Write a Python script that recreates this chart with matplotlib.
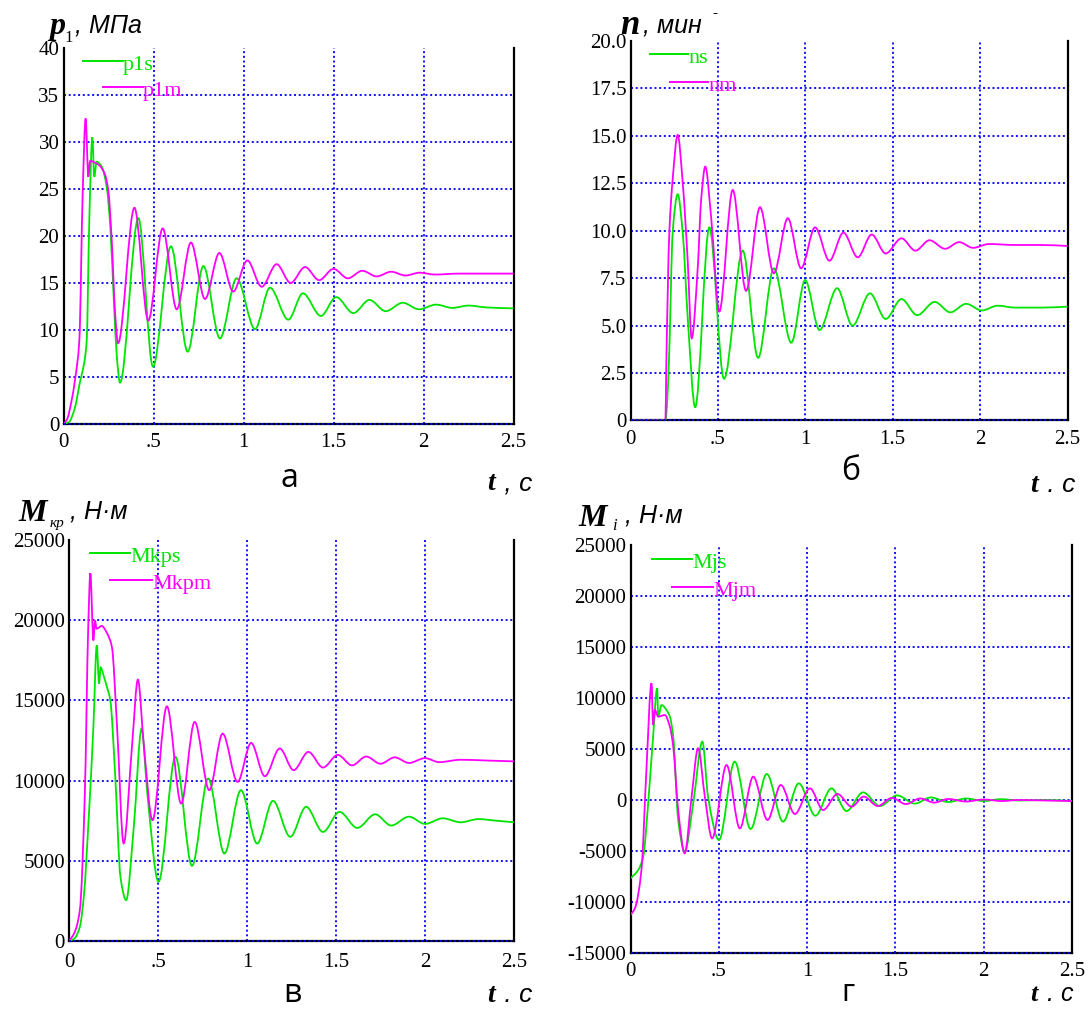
import numpy as np
import matplotlib
matplotlib.use('Agg')
import matplotlib.pyplot as plt
from matplotlib.path import Path
from matplotlib.patches import PathPatch
from matplotlib.lines import Line2D

# ---------------- data ----------------
X_TICKS = [0, 0.5, 1.0, 1.5, 2.0, 2.5]
X_TICK_LABELS = ['0', '.5', '1', '1.5', '2', '2.5']

# panel a : p1, MPa
p1m_t = [0, .02, .045, .064, .088, .107, .123, .138, .148, .175, .20, .231, .249, .268, .286, .303,
         .394, .471, .551, .629, .708, .786, .866, .943, 1.021, 1.101, 1.184, 1.262, 1.342, 1.42,
         1.50, 1.58, 1.66, 1.74, 1.82, 1.90, 1.98, 2.06, 2.2, 2.35, 2.5]
p1m_v = [0, .5, 2.5, 4.7, 8.9, 24.9, 32.5, 26.3, 28.0, 27.8, 27.5, 26.5, 24.8, 19.5, 12.0, 8.6,
         23.0, 11.0, 20.8, 12.2, 19.3, 13.3, 18.2, 14.1, 17.4, 14.6, 17.0, 15.0, 16.7, 15.3,
         16.5, 15.5, 16.3, 15.7, 16.2, 15.8, 16.1, 15.9, 16.0, 16.0, 16.0]
p1s_t = [0, .03, .06, .094, .115, .129, .143, .16, .171, .184, .212, .24, .26, .28, .297, .314,
         .416, .497, .597, .69, .777, .869, .962, 1.064, 1.147, 1.249, 1.33, 1.43, 1.515, 1.61,
         1.70, 1.79, 1.885, 1.975, 2.07, 2.16, 2.25, 2.35, 2.5]
p1s_v = [0, .2, 1.5, 4.7, 6.5, 8.9, 21.4, 30.5, 26.3, 27.9, 27.4, 25.2, 21.0, 13.0, 7.0, 4.4,
         21.9, 6.1, 18.9, 7.7, 16.8, 9.1, 15.5, 10.1, 14.5, 11.1, 13.9, 11.5, 13.5, 11.8,
         13.2, 12.0, 12.9, 12.2, 12.7, 12.35, 12.6, 12.4, 12.3]
p1_yticks = [0, 5, 10, 15, 20, 25, 30, 35, 40]
p1_ylabels = ['0', '5', '10', '15', '20', '25', '30', '35', '40']

# panel б : n
nm_t = [0, .2, .205, .222, .241, .27, .299, .327, .35, .385, .404, .428, .461, .508, .585, .661,
        .741, .82, .90, .976, 1.056, 1.138, 1.218, 1.30, 1.38, 1.46, 1.55, 1.63, 1.71, 1.80,
        1.88, 1.96, 2.05, 2.2, 2.35, 2.5]
nm_v = [0, 0, 3.0, 9.87, 12.68, 15.05, 12.5, 8.46, 4.33, 8.1, 11.62, 13.38, 10.74, 5.74, 12.15, 6.83,
        11.24, 7.76, 10.66, 8.02, 10.18, 8.42, 9.9, 8.6, 9.8, 8.8, 9.6, 8.95, 9.5, 9.05,
        9.4, 9.1, 9.3, 9.25, 9.25, 9.2]
ns_t = [0, .2, .21, .222, .241, .27, .299, .327, .37, .451, .535, .642, .73, .82, .92, .999,
        1.081, 1.182, 1.27, 1.37, 1.46, 1.55, 1.64, 1.74, 1.83, 1.92, 2.01, 2.10, 2.2, 2.35, 2.5]
ns_v = [0, 0, 1.0, 3.7, 9.87, 11.92, 9.87, 5.47, 0.7, 10.18, 2.2, 8.95, 3.3, 8.02, 4.1, 7.4,
        4.77, 6.97, 5.0, 6.7, 5.35, 6.4, 5.55, 6.25, 5.7, 6.15, 5.8, 6.05, 5.95, 5.95, 6.0]
n_yticks = [0, 2.5, 5, 7.5, 10, 12.5, 15, 17.5, 20]
n_ylabels = ['0', '2.5', '5.0', '7.5', '10.0', '12.5', '15.0', '17.5', '20.0']

# panel в : Mkp
mkpm_t = [0, .03, .061, .089, .108, .12, .137, .146, .155, .184, .213, .241, .27, .307, .355, .387,
          .421, .469, .55, .63, .706, .788, .863, .947, 1.023, 1.10, 1.184, 1.262, 1.345, 1.427,
          1.51, 1.59, 1.67, 1.75, 1.83, 1.91, 2.0, 2.08, 2.2, 2.35, 2.5]
mkpm_v = [0, 500, 1930, 9215, 19570, 22930, 18740, 19990, 19470, 19640, 19200, 18330, 13345, 6080,
          12310, 16295, 12100, 7535, 14630, 8570, 13660, 9400, 12930, 9920, 12350, 10270, 12000,
          10650, 11790, 10815, 11600, 10950, 11500, 11050, 11450, 11100, 11400, 11150, 11300,
          11250, 11200]
mkps_t = [0, .03, .061, .085, .108, .137, .156, .169, .178, .194, .213, .232, .26, .289, .321, .364,
          .408, .44, .503, .598, .691, .782, .873, .966, 1.057, 1.146, 1.243, 1.332, 1.427, 1.52,
          1.62, 1.72, 1.81, 1.91, 2.0, 2.1, 2.2, 2.3, 2.4, 2.5]
mkps_v = [0, 150, 890, 3000, 7120, 13345, 18430, 16050, 17050, 16560, 15840, 15010, 10230, 4000,
          2550, 7120, 13245, 9200, 3695, 11480, 4690, 10130, 5460, 9400, 6080, 8740, 6495, 8365,
          6800, 8050, 7050, 7900, 7200, 7750, 7300, 7650, 7400, 7600, 7500, 7400]
mkp_yticks = [0, 5000, 10000, 15000, 20000, 25000]
mkp_ylabels = ['0', '5000', '10000', '15000', '20000', '25000']

# panel г : Mj
mjs_t = [0, .044, .072, .10, .128, .151, .157, .176, .204, .223, .242, .27, .307, .355, .407, .439,
         .501, .59, .68, .772, .864, .953, 1.047, 1.138, 1.223, 1.317, 1.412, 1.51, 1.61, 1.70,
         1.80, 1.90, 2.0, 2.1, 2.2, 2.35, 2.5]
mjs_v = [-7680, -6860, -5560, -330, 6210, 10950, 8170, 9310, 8820, 8170, 6210, -1960, -5070, -330,
         5720, 330, -3920, 3760, -2840, 2550, -2120, 1630, -1540, 1140, -1080, 750, -590, 450,
         -350, 250, -200, 150, -100, 80, -50, 0, -100]
mjm_t = [0, .025, .062, .09, .119, .128, .138, .157, .194, .223, .242, .27, .307, .346, .383, .421,
         .462, .544, .619, .695, .776, .851, .931, 1.016, 1.091, 1.172, 1.252, 1.321, 1.40, 1.48,
         1.56, 1.64, 1.72, 1.80, 1.9, 2.0, 2.1, 2.2, 2.35, 2.5]
mjm_v = [-11270, -10620, -6860, 2940, 11440, 7350, 8820, 8170, 8330, 7190, 5230, -1000, -5230, 330,
         5070, 330, -3760, 3430, -2780, 2290, -1960, 1470, -1370, 1140, -980, 590, -650, 330,
         -590, 200, -400, 150, -250, 100, -150, 50, -100, 0, -50, -100]
mj_yticks = [-15000, -10000, -5000, 0, 5000, 10000, 15000, 20000, 25000]
mj_ylabels = ['-15000', '-10000', '-5000', '0', '5000', '10000', '15000', '20000', '25000']

# ---------------- style ----------------
W, H, DPI = 1091, 1010, 100
GREEN = '#00e400'
MAGENTA = '#ff00ff'
BLUE = '#0000ff'
SERIF = 'Liberation Serif'
SANS = 'Liberation Sans'

fig = plt.figure(figsize=(W / DPI, H / DPI), dpi=DPI)
fig.patch.set_facecolor('white')


def make_axes(l, r, t, b):
    return fig.add_axes([l / W, 1 - b / H, (r - l) / W, (b - t) / H])


def smooth_path(t, v):
    """Monotone cubic (Fritsch-Carlson) curve through the read points, as Bezier segments."""
    t = np.asarray(t, float)
    v = np.asarray(v, float)
    h = np.diff(t)
    delta = np.diff(v) / h
    n = len(t)
    d = np.zeros(n)
    d[0], d[-1] = delta[0], delta[-1]
    for k in range(1, n - 1):
        if delta[k - 1] * delta[k] <= 0:
            d[k] = 0.0
        else:
            w1 = 2 * h[k] + h[k - 1]
            w2 = h[k] + 2 * h[k - 1]
            d[k] = (w1 + w2) / (w1 / delta[k - 1] + w2 / delta[k])
    verts = [(t[0], v[0])]
    codes = [Path.MOVETO]
    for k in range(n - 1):
        verts += [(t[k] + h[k] / 3, v[k] + d[k] * h[k] / 3),
                  (t[k + 1] - h[k] / 3, v[k + 1] - d[k + 1] * h[k] / 3),
                  (t[k + 1], v[k + 1])]
        codes += [Path.CURVE4] * 3
    return Path(verts, codes)


def draw_series(ax, t, v, color):
    ax.add_patch(PathPatch(smooth_path(t, v), fill=False, edgecolor=color, lw=1.3,
                           transform=ax.transData, zorder=3))


def setup(ax, ylim, yticks, ylabels, xpad):
    ax.set_xlim(0, 2.5)
    ax.set_ylim(*ylim)
    ax.set_xticks(X_TICKS)
    ax.set_xticklabels(X_TICK_LABELS)
    ax.set_yticks(yticks)
    ax.set_yticklabels(ylabels)
    ax.tick_params(length=0, labelsize=15, labelcolor='black')
    ax.tick_params(axis='y', pad=3)
    ax.tick_params(axis='x', pad=xpad)
    for lab in ax.get_xticklabels() + ax.get_yticklabels():
        lab.set_fontfamily(SERIF)
    ax.grid(True, color=BLUE, linestyle=(0, (1.1, 1.5)), lw=1.3)
    ax.yaxis.get_gridlines()[-1].set_visible(False)
    ax.spines['top'].set_visible(False)
    for s in ('left', 'right', 'bottom'):
        ax.spines[s].set_color('black')
        ax.spines[s].set_linewidth(1.6)
    ax.axhline(ylim[0], color=BLUE, linestyle=(0, (1.1, 1.5)), lw=1.3, zorder=4, clip_on=False)


def legend_entry(x1, x2, y, label, color):
    fig.add_artist(Line2D([x1 / W, x2 / W], [1 - y / H, 1 - y / H], color=color, lw=1.4,
                          transform=fig.transFigure))
    fig.text(x2 / W, 1 - (y + 9) / H, label, color=color, fontsize=16, family=SERIF,
             va='baseline', ha='left')


def ftext(x, y, s, **kw):
    fig.text(x / W, 1 - y / H, s, va='baseline', **kw)


# ---------------- panel a ----------------
ax_a = make_axes(63.5, 513.5, 48, 424)
setup(ax_a, (0, 40), p1_yticks, p1_ylabels, 6.5)
draw_series(ax_a, p1s_t, p1s_v, GREEN)
draw_series(ax_a, p1m_t, p1m_v, MAGENTA)
legend_entry(83, 123, 61, 'p1s', GREEN)
legend_entry(103, 143, 87, 'p1m', MAGENTA)
ftext(49, 34, 'p', family=SERIF, fontsize=23, weight='bold', style='italic')
ftext(64, 42, '1', family=SERIF, fontsize=12)
ftext(75, 33, ', МПа', family=SANS, fontsize=18, style='italic')
ftext(289, 487, 'а', family='Open Sans', fontsize=23, ha='center')
ftext(487, 490, 't', family=SERIF, fontsize=20, weight='bold', style='italic')
ftext(497, 490, ' , c', family=SANS, fontsize=19, style='italic')

# ---------------- panel б ----------------
ax_b = make_axes(630.5, 1067.5, 41, 420.5)
setup(ax_b, (0, 20), n_yticks, n_ylabels, 6.5)
draw_series(ax_b, ns_t, ns_v, GREEN)
draw_series(ax_b, nm_t, nm_v, MAGENTA)
legend_entry(650, 688, 54, 'ns', GREEN)
legend_entry(670, 708, 82, 'nm', MAGENTA)
ftext(620, 34, 'n', family=SERIF, fontsize=25, weight='bold', style='italic')
ftext(643, 33, ', мин', family=SANS, fontsize=18, style='italic')
ftext(712, 17, '-', family=SANS, fontsize=11)
ftext(851, 480, 'б', family='Open Sans', fontsize=23, ha='center')
ftext(1030, 492, 't', family=SERIF, fontsize=20, weight='bold', style='italic')
ftext(1040, 492, ' . c', family=SANS, fontsize=19, style='italic')

# ---------------- panel в ----------------
ax_c = make_axes(69, 514, 540, 941)
setup(ax_c, (0, 25000), mkp_yticks, mkp_ylabels, 8.5)
draw_series(ax_c, mkps_t, mkps_v, GREEN)
draw_series(ax_c, mkpm_t, mkpm_v, MAGENTA)
legend_entry(90, 130, 553, 'Mkps', GREEN)
legend_entry(110, 152, 580, 'Mkpm', MAGENTA)
ftext(18, 521, 'M', family=SERIF, fontsize=23, weight='bold', style='italic')
ftext(50, 527, 'кр', family=SERIF, fontsize=11, style='italic')
ftext(70, 519, ', Н·м', family=SANS, fontsize=18, style='italic')
ftext(292, 1002, 'в', family='Open Sans', fontsize=23, ha='center')
ftext(487, 1002, 't', family=SERIF, fontsize=20, weight='bold', style='italic')
ftext(497, 1002, ' . c', family=SANS, fontsize=19, style='italic')

# ---------------- panel г ----------------
ax_d = make_axes(630.5, 1072, 545, 953)
setup(ax_d, (-15000, 25000), mj_yticks, mj_ylabels, 6.5)
draw_series(ax_d, mjs_t, mjs_v, GREEN)
draw_series(ax_d, mjm_t, mjm_v, MAGENTA)
legend_entry(652, 692, 559, 'Mjs', GREEN)
legend_entry(672, 713, 587, 'Mjm', MAGENTA)
ftext(578, 526, 'M', family=SERIF, fontsize=23, weight='bold', style='italic')
ftext(612, 530, 'i', family=SERIF, fontsize=12, style='italic')
ftext(625, 522, ', Н·м', family=SANS, fontsize=18, style='italic')
ftext(848, 1001, 'г', family='Open Sans', fontsize=22, ha='center')
ftext(1030, 1001, 't', family=SERIF, fontsize=19, weight='bold', style='italic')
ftext(1040, 1001, ' . c', family=SANS, fontsize=18, style='italic')

fig.savefig('out.png', dpi=DPI, facecolor='white')
